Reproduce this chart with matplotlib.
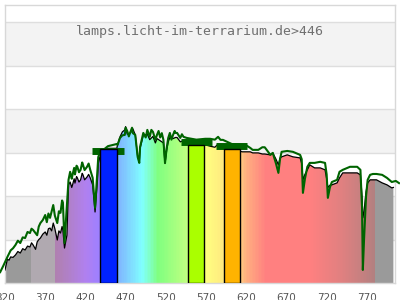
"""
Lamp spectrum chart: colour-graded spectrum with reference curve and band bars
"""

import numpy as np
import matplotlib
matplotlib.use("Agg")
import matplotlib.pyplot as plt
from matplotlib.colors import LinearSegmentedColormap, Normalize
from matplotlib.patches import Polygon


# DATA
title = "lamps.licht-im-terrarium.de>446"
x_ticks = [320, 370, 420, 470, 520, 570, 620, 670, 720, 770]

# measured spectrum (black outline, coloured fill)
black_nm = [320, 323, 325, 327, 330, 333, 336, 339, 342, 345,
            348, 351, 353, 355, 358, 360, 362, 364, 367, 370,
            372, 374, 376, 378, 380, 382, 385, 387, 389, 391,
            392, 394, 397, 399, 401, 403, 404, 406, 407, 409,
            410, 412, 414, 416, 417, 419, 422, 424, 426, 429,
            432, 435, 436, 438, 448, 459, 460, 463, 466, 469,
            470, 472, 476, 479, 482, 485, 487, 488, 492, 497,
            500, 504, 507, 509, 513, 517, 519, 521, 523, 525,
            529, 532, 534, 538, 542, 546, 558, 569, 575, 581,
            585, 588, 591, 602, 615, 619, 625, 628, 635, 640,
            643, 650, 653, 657, 660, 662, 664, 671, 678, 687,
            689, 690.5, 693, 696, 699, 705, 712, 718, 720, 721.5,
            724, 726.5, 733, 736, 740, 749, 758, 762, 764, 765,
            766.5, 769, 771, 774, 777.5, 782, 789, 795, 801, 803]
black_val = [6, 11, 10.5, 12, 11.8, 12.9, 14.5, 13.8, 15.8, 15.2,
             17, 16.6, 18.5, 17.5, 15.5, 18.9, 20, 20.7, 22.5, 23.5,
             22, 25, 25.3, 24, 27.6, 25, 19.8, 24, 23, 26,
             24.4, 16.1, 22, 45.2, 46.5, 44, 45.2, 48, 46, 49,
             48.4, 46.5, 47.5, 50.5, 49.8, 47.5, 48.8, 50, 48.4, 45.2,
             32.7, 47.5, 55, 58, 62, 62, 63.6, 67.3, 69.6, 70.5,
             72, 68.5, 69.1, 71, 68.2, 58, 56, 62, 68, 68.5,
             66, 67.5, 64.5, 66.5, 65.5, 64.5, 55, 61, 65, 67,
             66.5, 67, 67, 65, 65.5, 65, 64, 63.6, 63, 62.5,
             64, 62.5, 62.5, 61.5, 60.4, 60.4, 60.4, 59.9, 59.9, 59.4,
             59.4, 59, 59.9, 57, 54.4, 57.5, 58.1, 59, 58.1, 57.6,
             55, 47.5, 50, 52.1, 54.4, 53, 53, 52.1, 48, 44,
             45, 45.2, 46.1, 48.4, 50.7, 50.7, 50.7, 49.8, 40, 30,
             33, 42, 46.1, 47.5, 47.5, 47.5, 46.1, 45.2, 43.8, 44]

# reference spectrum (green line)
green_nm = [314, 318, 323, 327, 330, 333, 336, 339, 342, 345,
            348, 351, 353, 355, 358, 360, 362, 364, 367, 370,
            372, 374, 376, 378, 380, 382, 385, 387, 389, 391,
            392, 394, 396, 399, 401, 403, 404, 406, 407, 409,
            410, 412, 414, 416, 417, 419, 422, 424, 426, 429,
            432, 435, 436, 438, 448, 459, 460, 463, 466, 469,
            470, 472, 474, 476, 478, 479, 482, 485, 487, 488,
            492, 495, 497, 500, 502, 504, 507, 509, 511, 513,
            515, 517, 519, 521, 523, 525, 527, 529, 531, 532,
            534, 538, 540, 542, 546, 558, 569, 575, 581, 585,
            588, 591, 602, 615, 619, 625, 628, 635, 640, 643,
            650, 653, 657, 660, 662, 664, 671, 678, 687, 689,
            690.5, 693, 696, 699, 705, 712, 718, 720, 721.5, 724,
            726.5, 733, 736, 740, 749, 758, 762, 764, 765, 766.5,
            769, 771, 774, 777.5, 782, 789, 795, 801, 806, 810]
green_val = [5, 8, 12, 15, 16, 17.5, 19.5, 18.4, 21, 20.7,
             23.5, 23, 25, 24.4, 23, 22, 26, 27.6, 29, 31.3,
             28, 32, 30, 33, 35.9, 31, 27.6, 33, 32.3, 38,
             37, 18.4, 30, 47.5, 51.2, 48, 49.8, 53, 50, 54,
             53.5, 51, 52.1, 55.5, 54.4, 52, 53.5, 55, 52.1, 48.4,
             34.6, 52.1, 58, 60, 63, 64, 63.6, 66.8, 68, 68.2,
             71.5, 70, 67.5, 69.6, 71.5, 69, 68.2, 58, 55.3, 62.7,
             69.1, 67, 70.5, 67.3, 70.5, 69.6, 65.9, 68.2, 70, 67,
             69, 65.9, 55.3, 62, 66.8, 69.1, 66, 68.2, 70, 69.1,
             69.1, 66.8, 68.5, 67.3, 66.8, 66, 66.4, 66.4, 66, 67.3,
             65.9, 65.9, 64, 63.6, 63.6, 62.2, 61.3, 61.3, 62.5, 62.5,
             59, 59.9, 55, 50.7, 57, 60.4, 60.8, 60.4, 59, 57,
             41.5, 48, 53.5, 55.3, 55.3, 55.8, 55.3, 50, 39.2, 44,
             46.5, 47.5, 51.2, 52.1, 53.5, 53.5, 52.1, 35, 6, 20,
             40, 47.5, 49.8, 50.2, 50.2, 49.8, 48.4, 46.5, 47, 46]

# band bars (left edge, right edge, height, colour) and green band levels
bar_left = [438, 548, 592]
bar_right = [459, 568, 612]
bar_height = [61.6, 63.6, 61.6]
bar_colors = ["#0022ff", "#aaff00", "#ffb300"]
band_level = [60.7, 65.0, 63.3]


# spectrum colour ramp
stops = [(320, "#9a9a9a"), (351, "#9a9a9a"), (351.1, "#b0a9b0"), (382, "#b0a9b0"),
         (382.1, "#b080b0"), (400, "#b080cc"), (420, "#b080f0"), (435, "#a080ff"),
         (450, "#8a80ff"), (460, "#80b4ff"), (475, "#80d8ff"), (490, "#80ffff"),
         (500, "#80ffc4"), (510, "#80ff80"), (530, "#a4ff80"), (548, "#c4ff80"),
         (556, "#e0ff80"), (570, "#ffff80"), (590, "#ffec80"), (612, "#ffd080"),
         (620, "#ffb080"), (635, "#ff9480"), (645, "#ff8080"), (700, "#ff8080"),
         (740, "#e08080"), (770, "#c08080"), (782, "#b08080"), (782.1, "#9a9a9a"),
         (805, "#9a9a9a")]
x0, x1 = 320, 805
cmap = LinearSegmentedColormap.from_list(
    "spec", [((n - x0) / (x1 - x0), c) for n, c in stops])

fig = plt.figure(figsize=(4, 3), dpi=100)
ax = fig.add_axes([5 / 400, 17 / 300, 390 / 400, 278 / 300])
ax.set_xlim(x0, x1)
ax.set_ylim(0, 128)

# background bands and grid
for lo in [20, 60, 100]:
    ax.axhspan(lo, lo + 20, color="#f3f3f3", zorder=0, lw=0)
for g in [20, 40, 60, 80, 100, 120]:
    ax.axhline(g, color="#dedede", lw=1, zorder=1)

# coloured fill under the measured curve
grad = np.linspace(x0, x1, 1200).reshape(1, -1)
im = ax.imshow(grad, extent=(x0, x1, 0, 128), aspect="auto", cmap=cmap,
               norm=Normalize(x0, x1), interpolation="nearest", zorder=2)
verts = [(black_nm[0], 0)] + list(zip(black_nm, black_val)) + [(black_nm[-1], 0)]
clip = Polygon(verts, closed=True, facecolor="none", edgecolor="none",
               transform=ax.transData)
ax.add_patch(clip)
im.set_clip_path(clip)

ax.plot(black_nm, black_val, color="black", lw=0.9, zorder=3)
ax.plot(green_nm, green_val, color="#006400", lw=1.5, zorder=4, clip_on=False)

# green band levels behind the bars
for l, r, lev in zip(bar_left, bar_right, band_level):
    w = r - l
    ax.plot([l - w * 0.45, r + w * 0.45], [lev, lev], color="#006400",
            lw=5, solid_capstyle="butt", zorder=4)

ax.bar([(l + r) / 2 for l, r in zip(bar_left, bar_right)], bar_height,
       width=[r - l for l, r in zip(bar_left, bar_right)], color=bar_colors,
       edgecolor="black", linewidth=1, zorder=5)

ax.text(0.5, 0.903, title, transform=ax.transAxes, ha="center", va="center",
        family="DejaVu Sans Mono", fontsize=9.5, color="#707070", zorder=6)

ax.set_xticks(x_ticks)
ax.set_xticklabels([str(t) for t in x_ticks])
ax.set_yticks([])
ax.tick_params(axis="x", length=0, pad=7, labelsize=7.5, labelcolor="#555555")
for s in ax.spines.values():
    s.set_color("#d8d8d8")
    s.set_linewidth(1)

fig.savefig("out.png", dpi=100)
